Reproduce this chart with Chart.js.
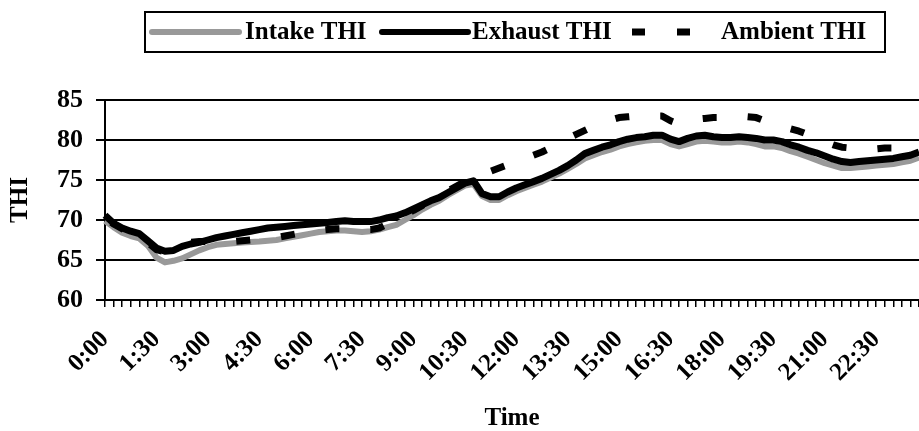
<!DOCTYPE html>
<html>
<head>
<meta charset="utf-8">
<script src="https://cdn.jsdelivr.net/npm/chart.js@4.4.1/dist/chart.umd.min.js"></script>
<style>
  html, body { margin: 0; padding: 0; background: #fff; }
  #wrap { position: relative; width: 919px; height: 431px; }
</style>
</head>
<body>
<div id="wrap"><canvas id="thiChart"></canvas></div>
<script>
  // 15 minute readings, 0:00 .. 23:45
  const times = [];
  for (let m = 0; m < 24 * 60; m += 15) {
    times.push(Math.floor(m / 60) + ':' + String(m % 60).padStart(2, '0'));
  }
  const tickLabels = ['0:00', '1:30', '3:00', '4:30', '6:00', '7:30', '9:00', '10:30',
    '12:00', '13:30', '15:00', '16:30', '18:00', '19:30', '21:00', '22:30'];

  const intakeTHI = [
    69.9, 69.1, 68.4, 68.0, 67.7, 66.8, 65.3, 64.7, 64.9, 65.2, 65.7, 66.2,
    66.6, 66.9, 67.0, 67.1, 67.2, 67.25, 67.3, 67.4, 67.5, 67.7, 67.9, 68.1,
    68.3, 68.5, 68.6, 68.7, 68.7, 68.6, 68.5, 68.6, 68.8, 69.1, 69.4, 70.0,
    70.6, 71.3, 71.9, 72.4, 73.1, 73.7, 74.3, 74.5, 73.0, 72.5, 72.5, 73.1,
    73.6, 74.0, 74.4, 74.8, 75.3, 75.8, 76.4, 77.0, 77.7, 78.1, 78.5, 78.8,
    79.2, 79.5, 79.7, 79.9, 80.0, 80.0, 79.5, 79.2, 79.5, 79.8, 79.9, 79.8,
    79.7, 79.7, 79.8, 79.7, 79.5, 79.2, 79.2, 79.0, 78.6, 78.3, 77.9, 77.5,
    77.1, 76.8, 76.5, 76.5, 76.6, 76.7, 76.8, 76.9, 77.0, 77.2, 77.4, 77.8
  ];
  const exhaustTHI = [
    70.6, 69.6, 69.0, 68.6, 68.3, 67.4, 66.5, 66.1, 66.2, 66.7, 67.0, 67.2,
    67.5, 67.8, 68.0, 68.2, 68.4, 68.6, 68.8, 69.0, 69.1, 69.2, 69.3, 69.4,
    69.5, 69.6, 69.7, 69.8, 69.9, 69.8, 69.8, 69.8, 70.0, 70.3, 70.5, 70.9,
    71.4, 71.9, 72.4, 72.8, 73.4, 74.0, 74.6, 74.9, 73.3, 72.9, 72.9, 73.5,
    74.0, 74.4, 74.8, 75.2, 75.7, 76.2, 76.8, 77.5, 78.3, 78.7, 79.1, 79.4,
    79.8, 80.1, 80.3, 80.4, 80.6, 80.6, 80.1, 79.8, 80.2, 80.5, 80.6, 80.4,
    80.3, 80.3, 80.4, 80.3, 80.2, 80.0, 80.0, 79.8, 79.4, 79.1, 78.7, 78.4,
    78.0, 77.6, 77.3, 77.2, 77.3, 77.4, 77.5, 77.6, 77.7, 77.9, 78.1, 78.5
  ];
  const ambientTHI = [
    70.3, 69.5, 68.9, 68.4, 68.0, 67.2, 66.3, 66.0, 66.4, 66.9, 67.2, 67.3,
    67.3, 67.3, 67.3, 67.3, 67.4, 67.5, 67.6, 67.7, 67.8, 68.0, 68.2, 68.4,
    68.6, 68.7, 68.8, 68.9, 68.9, 68.9, 68.8, 68.8, 69.0, 69.5, 70.1, 70.7,
    71.2, 71.8, 72.4, 73.0, 73.6, 74.2, 74.8, 75.3, 75.7, 76.1, 76.5, 76.9,
    77.3, 77.7, 78.1, 78.5, 79.0, 79.6, 80.2, 80.7, 81.2, 81.7, 82.1, 82.5,
    82.8, 82.9, 83.0, 83.0, 83.0, 83.0, 82.4, 82.0, 82.3, 82.6, 82.7, 82.8,
    82.8, 82.8, 82.8, 82.9, 82.8, 82.4, 82.0, 81.7, 81.4, 81.1, 80.7, 80.3,
    79.8, 79.4, 79.1, 79.0, 78.9, 78.9, 78.9, 79.0, 79.0, 79.0, 79.1, 79.3
  ];

  const FONT = 'Liberation Serif, Times New Roman, serif';
  const GREY = '#999999';

  // legend drawn by hand so it sits in its own framed box like the original
  const boxLegend = {
    id: 'boxLegend',
    afterDraw(chart) {
      const ctx = chart.ctx;
      ctx.save();
      ctx.strokeStyle = '#000';
      ctx.lineWidth = 2;
      ctx.strokeRect(145, 12, 740, 40);

      ctx.lineCap = 'round';
      ctx.lineWidth = 6;
      ctx.strokeStyle = GREY;
      ctx.beginPath(); ctx.moveTo(152, 32); ctx.lineTo(239, 32); ctx.stroke();
      ctx.strokeStyle = '#000';
      ctx.beginPath(); ctx.moveTo(382, 32); ctx.lineTo(468, 32); ctx.stroke();
      ctx.lineCap = 'butt';
      ctx.lineWidth = 7;
      ctx.setLineDash([13, 32]);
      ctx.beginPath(); ctx.moveTo(632, 32); ctx.lineTo(690, 32); ctx.stroke();
      ctx.setLineDash([]);

      ctx.fillStyle = '#000';
      ctx.font = 'bold 25px ' + FONT;
      ctx.textBaseline = 'middle';
      ctx.fillText('Intake THI', 245, 33);
      ctx.fillText('Exhaust THI', 472, 33);
      ctx.fillText('Ambient THI', 721, 33);
      ctx.restore();
    }
  };

  new Chart(document.getElementById('thiChart'), {
    type: 'line',
    data: {
      labels: times,
      datasets: [
        {
          label: 'Intake THI',
          data: intakeTHI,
          borderColor: GREY,
          borderWidth: 6,
          order: 2
        },
        {
          label: 'Exhaust THI',
          data: exhaustTHI,
          borderColor: '#000',
          borderWidth: 7,
          order: 1
        },
        {
          label: 'Ambient THI',
          data: ambientTHI,
          borderColor: '#000',
          borderWidth: 7,
          borderDash: [14, 31],
          borderDashOffset: 37,
          borderCapStyle: 'butt',
          order: 0
        }
      ]
    },
    options: {
      responsive: true,
      maintainAspectRatio: false,
      animation: false,
      layout: { padding: { top: 100, left: 0, right: 0, bottom: 0 } },
      elements: {
        point: { radius: 0 },
        line: { tension: 0, borderJoinStyle: 'round', fill: false }
      },
      plugins: {
        legend: { display: false },
        title: { display: false },
        tooltip: { enabled: false }
      },
      scales: {
        x: {
          offset: false,
          afterFit: (s) => { s.height = 131; s.paddingLeft = 0; s.paddingRight = 0; },
          grid: { drawOnChartArea: false, drawTicks: true, tickLength: 7, color: '#000', lineWidth: 1.5 },
          border: { color: '#000', width: 2 },
          ticks: {
            autoSkip: false,
            minRotation: 45,
            maxRotation: 45,
            padding: 18,
            color: '#000',
            font: { family: FONT, size: 25, weight: 'bold' },
            callback: function(value, index) {
              const t = times[index];
              return tickLabels.includes(t) ? t : '';
            }
          },
          title: {
            display: true,
            text: 'Time',
            color: '#000',
            font: { family: FONT, size: 25, weight: 'bold' },
            padding: { top: 0, bottom: -3 }
          }
        },
        y: {
          min: 60,
          max: 85,
          afterFit: (s) => { s.width = 105; },
          grid: { color: '#000', lineWidth: 2, tickLength: 9 },
          border: { color: '#000', width: 2 },
          ticks: {
            stepSize: 5,
            padding: 13,
            color: '#000',
            font: { family: FONT, size: 26, weight: 'bold' }
          },
          title: {
            display: true,
            text: 'THI',
            color: '#000',
            font: { family: FONT, size: 25, weight: 'bold' },
            padding: { top: 6, bottom: 4 }
          }
        }
      }
    },
    plugins: [boxLegend]
  });
</script>
</body>
</html>
